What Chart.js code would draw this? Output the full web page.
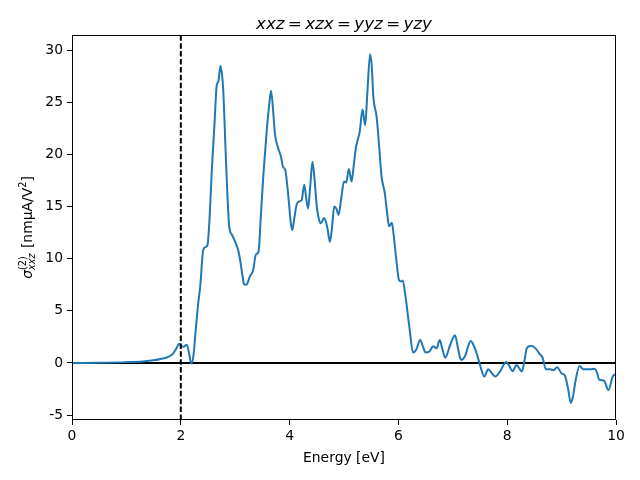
<!DOCTYPE html>
<html>
<head>
<meta charset="utf-8">
<script src="https://cdn.jsdelivr.net/npm/chart.js@4.4.1/dist/chart.umd.min.js"></script>
<style>
  html, body { margin: 0; padding: 0; background: #fff; }
  #wrap { width: 640px; height: 480px; }
</style>
</head>
<body>
<div id="wrap"><canvas id="sigmaChart" width="640" height="480"></canvas></div>
<script>
// photon energy [eV] and sigma^(2)_xxz [nm uA / V^2]
const energy = [
    0.0, 0.5, 1.0, 1.3, 1.5, 1.65, 1.75, 1.85, 1.92, 1.97,
    2.02, 2.05, 2.11, 2.15, 2.19, 2.23, 2.28, 2.32, 2.36, 2.41,
    2.45, 2.49, 2.53, 2.57, 2.62, 2.66, 2.69, 2.73, 2.76, 2.78,
    2.83, 2.89, 2.94, 3.01, 3.05, 3.09, 3.13, 3.16, 3.19, 3.22,
    3.27, 3.33, 3.38, 3.43, 3.47, 3.52, 3.58, 3.63, 3.66, 3.70,
    3.73, 3.79, 3.84, 3.88, 3.92, 3.98, 4.02, 4.05, 4.09, 4.13,
    4.18, 4.22, 4.27, 4.30, 4.34, 4.38, 4.42, 4.46, 4.50, 4.53,
    4.57, 4.60, 4.63, 4.67, 4.70, 4.74, 4.78, 4.82, 4.86, 4.90,
    4.95, 5.00, 5.04, 5.09, 5.14, 5.18, 5.22, 5.29, 5.34, 5.39,
    5.43, 5.48, 5.51, 5.54, 5.60, 5.65, 5.69, 5.75, 5.79, 5.83,
    5.88, 5.91, 5.96, 6.01, 6.05, 6.08, 6.13, 6.20, 6.27, 6.33,
    6.40, 6.45, 6.50, 6.57, 6.64, 6.70, 6.76, 6.81, 6.86, 6.95,
    7.04, 7.10, 7.15, 7.22, 7.33, 7.39, 7.44, 7.50, 7.58, 7.65,
    7.72, 7.78, 7.87, 7.98, 8.04, 8.10, 8.17, 8.27, 8.32, 8.36,
    8.44, 8.52, 8.59, 8.65, 8.71, 8.79, 8.85, 8.92, 9.00, 9.06,
    9.12, 9.17, 9.21, 9.25, 9.33, 9.40, 9.46, 9.54, 9.60, 9.65,
    9.69, 9.78, 9.86, 9.94, 10.0
];
const sigma = [
    0.0, 0.02, 0.08, 0.15, 0.25, 0.4, 0.55, 0.85, 1.4, 1.85,
    1.6, 1.55, 1.75, 1.0, -0.05, 0.6, 3.5, 5.7, 7.5, 10.8,
    11.1, 11.3, 14.0, 18.5, 23.0, 26.6, 27.0, 28.5, 27.5, 26.2,
    19.5, 13.1, 12.3, 11.5, 10.9, 9.9, 8.5, 7.6, 7.5, 7.6,
    8.3, 8.9, 10.4, 10.7, 14.0, 18.2, 22.3, 25.0, 26.1, 24.0,
    22.0, 20.6, 19.8, 18.8, 18.5, 15.8, 13.5, 12.75, 14.0, 15.2,
    15.5, 15.6, 17.1, 16.0, 14.8, 17.0, 19.3, 17.5, 15.0, 14.0,
    13.4, 13.6, 13.9, 13.5, 12.8, 11.6, 13.0, 15.0, 14.8, 14.2,
    15.8, 17.4, 17.3, 18.6, 17.4, 19.0, 20.7, 22.2, 24.3, 22.8,
    26.0, 29.6, 28.5, 25.5, 23.6, 20.5, 17.9, 16.3, 14.5, 13.1,
    13.45, 12.4, 10.0, 7.96, 7.8, 7.9, 6.4, 3.5, 1.0, 1.3,
    2.2, 1.6, 1.0, 1.1, 1.6, 1.4, 2.2, 1.3, 0.5, 1.7,
    2.65, 1.3, 0.3, 0.6, 2.1, 1.6, 0.9, -0.2, -1.3, -0.6,
    -1.0, -1.3, -0.8, 0.1, -0.3, -0.8, -0.2, -0.8, 0.3, 1.4,
    1.65, 1.4, 0.9, 0.5, -0.6, -0.6, -0.7, -0.4, -1.0, -1.2,
    -2.5, -3.85, -3.2, -1.9, -0.3, -0.6, -0.6, -0.6, -0.55, -0.9,
    -1.6, -1.7, -2.6, -1.3, -1.05
];

const xTicks = [0, 2, 4, 6, 8, 10];
const yTicks = [-5, 0, 5, 10, 15, 20, 25, 30];
const xRange = [0, 10];
const yRange = [-5.47, 31.45];
const fermiEnergy = 2.0;   // dashed marker

const FONT = "'DejaVu Sans', sans-serif";
const TITLE = 'xxz\u2009=\u2009xzx\u2009=\u2009yyz\u2009=\u2009yzy';

// black frame around the plot area, like matplotlib spines
const framePlugin = {
    id: 'frame',
    afterDraw(chart) {
        const {ctx, chartArea: a} = chart;
        ctx.save();
        ctx.strokeStyle = '#000';
        ctx.lineWidth = 1;
        ctx.strokeRect(a.left + 0.5, a.top + 0.5, a.right - a.left - 1, a.bottom - a.top - 1);
        ctx.restore();
    }
};

// title centred over the plot area (not the whole canvas)
const titlePlugin = {
    id: 'axesTitle',
    afterDraw(chart) {
        const {ctx, chartArea: a} = chart;
        ctx.save();
        ctx.font = 'italic 16.7px ' + FONT;
        ctx.fillStyle = '#000';
        ctx.textAlign = 'center';
        ctx.textBaseline = 'alphabetic';
        ctx.fillText(TITLE, (a.left + a.right) / 2, 28.5);
        ctx.restore();
    }
};

// y label with super/subscripts: sigma^(2)_xxz [nm uA/V^2]
const yLabelPlugin = {
    id: 'yLabel',
    afterDraw(chart) {
        const {ctx, chartArea: a} = chart;
        const big = 13.9, small = 9.7;
        const parts = [
            {t: 'σ', size: big, italic: true, dy: 0},
            {t: '(2)', size: small, italic: false, dy: -6, stack: true},
            {t: 'xxz', size: small, italic: true, dy: 3, stackEnd: true},
            {t: ' [nmμA/V', size: big, italic: false, dy: 0},
            {t: '2', size: small, italic: false, dy: -6},
            {t: ']', size: big, italic: false, dy: 0}
        ];
        const fontOf = (p) => (p.italic ? 'italic ' : '') + p.size + 'px ' + FONT;
        let total = 0, stackW = 0;
        parts.forEach(p => {
            ctx.font = fontOf(p);
            p.w = ctx.measureText(p.t).width;
        });
        parts.forEach(p => {
            if (p.stack) { stackW = p.w; }
            else if (p.stackEnd) { total += Math.max(stackW, p.w) + 1; }
            else total += p.w;
        });
        ctx.save();
        ctx.translate(27, (a.top + a.bottom) / 2);
        ctx.rotate(-Math.PI / 2);
        ctx.fillStyle = '#000';
        ctx.textBaseline = 'alphabetic';
        ctx.textAlign = 'left';
        let x = -total / 2;
        let stackX = 0;
        parts.forEach(p => {
            ctx.font = fontOf(p);
            if (p.stack) {
                stackX = x;
                ctx.fillText(p.t, x, 5 + p.dy);
            } else if (p.stackEnd) {
                ctx.fillText(p.t, stackX, 5 + p.dy);
                x = stackX + Math.max(stackW, p.w) + 1;
            } else {
                ctx.fillText(p.t, x, 5 + p.dy);
                x += p.w;
            }
        });
        ctx.restore();
    }
};

const renderSigmaChart = () => {
    var ctx = document.getElementById('sigmaChart').getContext('2d');

    const curve = energy.map((e, i) => ({x: e, y: sigma[i]}));

    new Chart(ctx, {
        type: 'line',
        data: {
            datasets: [{
                label: 'sigma xxz',
                data: curve,
                borderColor: '#1f77b4',
                borderWidth: 2,
                pointRadius: 0,
                cubicInterpolationMode: 'monotone',
                fill: false,
                order: 1,
            }, {
                label: 'zero',
                data: [{x: xRange[0], y: 0}, {x: xRange[1], y: 0}],
                borderColor: '#000',
                borderWidth: 2,
                pointRadius: 0,
                order: 2,
            }, {
                label: 'fermi',
                data: [{x: fermiEnergy, y: yRange[0]}, {x: fermiEnergy, y: yRange[1]}],
                borderColor: '#000',
                borderWidth: 2,
                borderDash: [5.5, 2.4],
                pointRadius: 0,
                order: 0,
            }],
        },
        options: {
            responsive: false,
            animation: false,
            events: [],
            layout: { padding: { left: 0, right: 24, top: 35, bottom: 0 } },
            plugins: {
                legend: { display: false },
                tooltip: { enabled: false },
                title: { display: false },
            },
            scales: {
                x: {
                    type: 'linear',
                    min: xRange[0],
                    max: xRange[1],
                    afterBuildTicks: (s) => { s.ticks = xTicks.map(v => ({value: v})); },
                    afterFit: (s) => { s.height = 60; },
                    grid: { drawOnChartArea: false, tickLength: 5, tickColor: '#000', color: '#000' },
                    border: { display: false },
                    ticks: { color: '#000', font: { family: FONT, size: 13.9 }, padding: 3, maxRotation: 0 },
                    title: {
                        display: true,
                        text: 'Energy [eV]',
                        color: '#000',
                        font: { family: FONT, size: 13.9 },
                        padding: { top: 0, bottom: 13 },
                    },
                },
                y: {
                    type: 'linear',
                    min: yRange[0],
                    max: yRange[1],
                    afterBuildTicks: (s) => { s.ticks = yTicks.map(v => ({value: v})); },
                    afterFit: (s) => { s.width = 72; },
                    grid: { drawOnChartArea: false, tickLength: 5, tickColor: '#000', color: '#000' },
                    border: { display: false },
                    ticks: { color: '#000', font: { family: FONT, size: 13.9 }, padding: 4 },
                },
            },
        },
        plugins: [framePlugin, titlePlugin, yLabelPlugin],
    });
};

window.addEventListener('load', renderSigmaChart);
</script>
</body>
</html>
